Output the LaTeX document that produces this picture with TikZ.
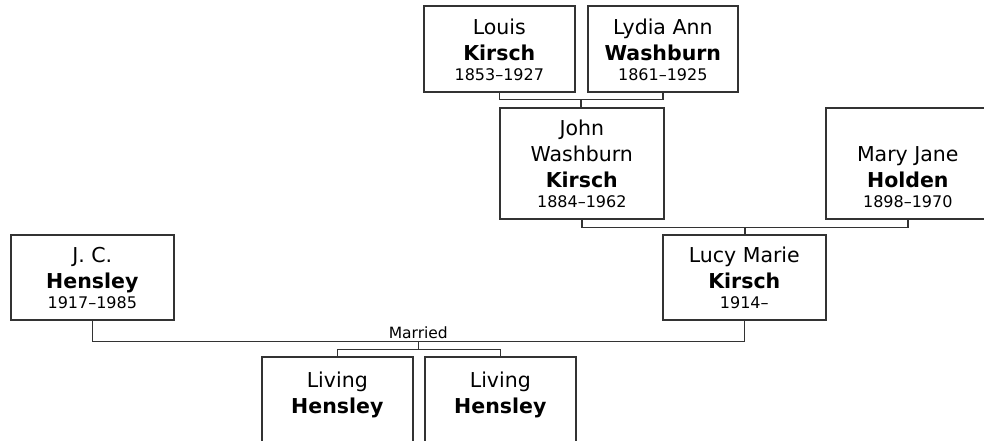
\documentclass[tikz,border=0pt]{standalone}
\usepackage{fontspec}
\setmainfont{DejaVu Sans}
\usetikzlibrary{calc}
\definecolor{edgegray}{HTML}{333333}
\tikzset{
  pbox/.style={draw=edgegray, line width=1.6pt, inner sep=0pt, anchor=north west},
  link/.style={draw=edgegray, line width=1.6pt},
  note/.style={font=\fontsize{15.5}{18}\selectfont, inner sep=0pt, anchor=base}
}
\setlength{\parskip}{0pt}
\begin{document}
\begin{tikzpicture}[x=1pt, y=-1pt]
	\def\pers#1#2#3#4{\parbox[c][#2pt][b]{#1pt}{\centering\fontsize{20.5}{26}\selectfont #3\par\fontsize{16}{20.5}\selectfont\mbox{}#4\par\vspace{11pt}}}
	\useasboundingbox (0,0) rectangle (984,441);
	\clip (0,0) rectangle (984,441);
	% grandparents
	\node[pbox] (louis) at (423,5) {\pers{151}{86}{Louis\\\textbf{Kirsch}}{1853–1927}};
	\node[pbox] (lydia) at (587,5) {\pers{150}{86}{Lydia Ann\\\textbf{Washburn}}{1861–1925}};
	% parents
	\node[pbox] (john) at (499,107) {\pers{164}{111}{John\\Washburn\\\textbf{Kirsch}}{1884–1962}};
	\node[pbox] (mary) at (825,107) {\pers{164}{111}{Mary Jane\\\textbf{Holden}}{1898–1970}};
	% couple
	\node[pbox] (jc) at (10,234) {\pers{163}{85}{J. C.\\\textbf{Hensley}}{1917–1985}};
	\node[pbox] (lucy) at (662,234) {\pers{163}{85}{Lucy Marie\\\textbf{Kirsch}}{1914–}};
	% children
	\node[pbox] (liv1) at (261,356) {\pers{151}{88}{Living\\\textbf{Hensley}}{}};
	\node[pbox] (liv2) at (424,356) {\pers{151}{88}{Living\\\textbf{Hensley}}{}};
	% links
	\draw[link] (louis.south) -- ++(0,7) -| (lydia.south);
	\coordinate (m1) at ($(louis.south)!.5!(lydia.south)+(0,7)$);
	\draw[link] (m1) -- (m1 |- john.north);
	\draw[link] (john.south) -- ++(0,8) -| (mary.south);
	\coordinate (m2) at ($(john.south)!.5!(mary.south)+(0,8)$);
	\draw[link] (m2) -- (m2 |- lucy.north);
	\draw[link] (jc.south) -- ++(0,21) -| (lucy.south);
	\coordinate (m3) at ($(jc.south)!.5!(lucy.south)+(0,21)$);
	\node[note] (married) at ($(m3)+(0,-3.5)$) {Married};
	\draw[link] (m3) -- ++(0,8) coordinate (m4);
	\draw[link] (liv1.north) -- (liv1.north |- m4) -- (liv2.north |- m4) -- (liv2.north);
\end{tikzpicture}
\end{document}
